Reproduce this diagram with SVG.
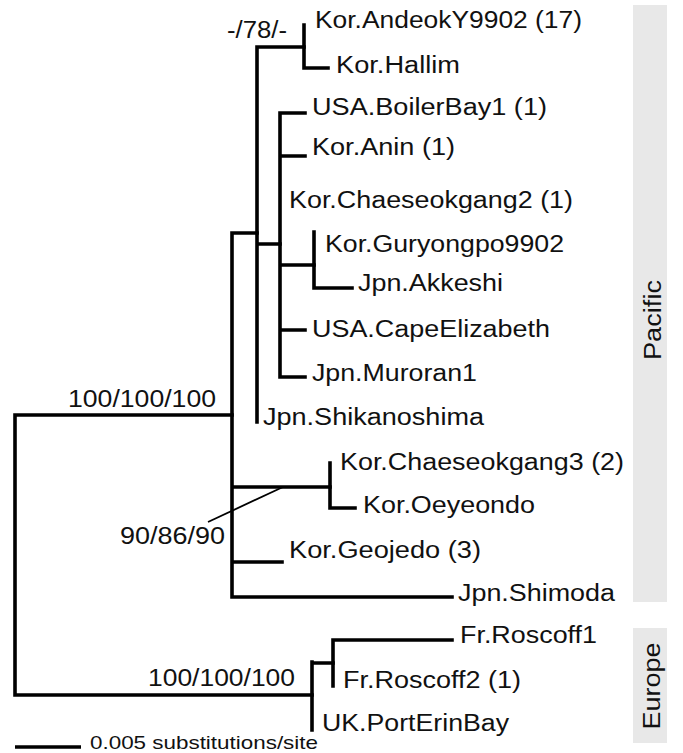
<svg xmlns="http://www.w3.org/2000/svg" width="683" height="753" viewBox="0 0 683 753">
<style>
.t{font-family:"Liberation Sans",Arial,sans-serif;font-size:23px;fill:#111;}
.s{font-family:"Liberation Sans",Arial,sans-serif;font-size:19px;fill:#111;}
.b{stroke:#000;stroke-width:3.6;fill:none;stroke-linecap:square;}
.d{stroke:#000;stroke-width:1.8;fill:none;}
.bar{fill:#e8e8e8;}
</style>
<rect width="683" height="753" fill="#fff"/>
<g id="regions">
<rect class="bar" x="633" y="5" width="34" height="597"/>
<rect class="bar" x="633" y="628" width="34" height="115"/>
<text class="t" transform="translate(661,320) rotate(-90)" text-anchor="middle" font-size="24" textLength="80" lengthAdjust="spacingAndGlyphs">Pacific</text>
<text class="t" transform="translate(660,686) rotate(-90)" text-anchor="middle" font-size="24" textLength="87" lengthAdjust="spacingAndGlyphs">Europe</text>
</g>
<g id="connectors">
<path class="b" d="M15,415 V695 M15,415 H232 M15,695 H312"/>
<path class="b" d="M232,233 V597 M232,233 H257 M232,487 H330 M232,562 H282 M232,597 H452"/>
<path class="b" d="M257,47 V422 M257,47 H304 M257,244 H280"/>
<path class="b" d="M304,25 V68 H328"/>
<path class="b" d="M280,113 V377 M280,113 H305 M280,156 H305 M280,265 H314 M280,330 H305 M280,377 H305"/>
<path class="b" d="M314,232 V288 H352"/>
<path class="b" d="M330,463 V508 H355"/>
<path class="b" d="M312,662 V730 M312,663 H333"/>
<path class="b" d="M333,640 V686 M333,640 H452"/>
<line class="d" x1="208" y1="522" x2="283" y2="487"/>
</g>
<g id="support">
<text class="t" x="227" y="38" textLength="60" lengthAdjust="spacingAndGlyphs">-/78/-</text>
<text class="t" x="68" y="407" textLength="148" lengthAdjust="spacingAndGlyphs">100/100/100</text>
<text class="t" x="120" y="544" textLength="105" lengthAdjust="spacingAndGlyphs">90/86/90</text>
<text class="t" x="148" y="686" textLength="147" lengthAdjust="spacingAndGlyphs">100/100/100</text>
</g>
<g id="n-andeok"><text class="t" x="315" y="28" textLength="267" lengthAdjust="spacingAndGlyphs">Kor.AndeokY9902 (17)</text></g>
<g id="n-hallim"><text class="t" x="336" y="73" textLength="124" lengthAdjust="spacingAndGlyphs">Kor.Hallim</text></g>
<g id="n-boilerbay"><text class="t" x="312" y="115" textLength="235" lengthAdjust="spacingAndGlyphs">USA.BoilerBay1 (1)</text></g>
<g id="n-anin"><text class="t" x="312" y="155" textLength="143" lengthAdjust="spacingAndGlyphs">Kor.Anin (1)</text></g>
<g id="n-chaeseokgang2"><text class="t" x="289" y="208" textLength="284" lengthAdjust="spacingAndGlyphs">Kor.Chaeseokgang2 (1)</text></g>
<g id="n-guryongpo"><text class="t" x="325" y="252" textLength="239" lengthAdjust="spacingAndGlyphs">Kor.Guryongpo9902</text></g>
<g id="n-akkeshi"><text class="t" x="358" y="291" textLength="145" lengthAdjust="spacingAndGlyphs">Jpn.Akkeshi</text></g>
<g id="n-capeelizabeth"><text class="t" x="312" y="337" textLength="238" lengthAdjust="spacingAndGlyphs">USA.CapeElizabeth</text></g>
<g id="n-muroran"><text class="t" x="312" y="381" textLength="165" lengthAdjust="spacingAndGlyphs">Jpn.Muroran1</text></g>
<g id="n-shikanoshima"><text class="t" x="263" y="425" textLength="221" lengthAdjust="spacingAndGlyphs">Jpn.Shikanoshima</text></g>
<g id="n-chaeseokgang3"><text class="t" x="340" y="470" textLength="284" lengthAdjust="spacingAndGlyphs">Kor.Chaeseokgang3 (2)</text></g>
<g id="n-oeyeondo"><text class="t" x="363" y="513" textLength="172" lengthAdjust="spacingAndGlyphs">Kor.Oeyeondo</text></g>
<g id="n-geojedo"><text class="t" x="289" y="558" textLength="192" lengthAdjust="spacingAndGlyphs">Kor.Geojedo (3)</text></g>
<g id="n-shimoda"><text class="t" x="458" y="601" textLength="157" lengthAdjust="spacingAndGlyphs">Jpn.Shimoda</text></g>
<g id="n-roscoff1"><text class="t" x="460" y="643" textLength="137" lengthAdjust="spacingAndGlyphs">Fr.Roscoff1</text></g>
<g id="n-roscoff2"><text class="t" x="343" y="688" textLength="178" lengthAdjust="spacingAndGlyphs">Fr.Roscoff2 (1)</text></g>
<g id="n-porterin"><text class="t" x="322" y="731" textLength="187" lengthAdjust="spacingAndGlyphs">UK.PortErinBay</text></g>
<g id="scale">
<line class="b" x1="15" y1="747" x2="81" y2="747" style="stroke-linecap:butt"/>
<text class="s" x="90" y="749" textLength="228" lengthAdjust="spacingAndGlyphs">0.005 substitutions/site</text>
</g>
</svg>
